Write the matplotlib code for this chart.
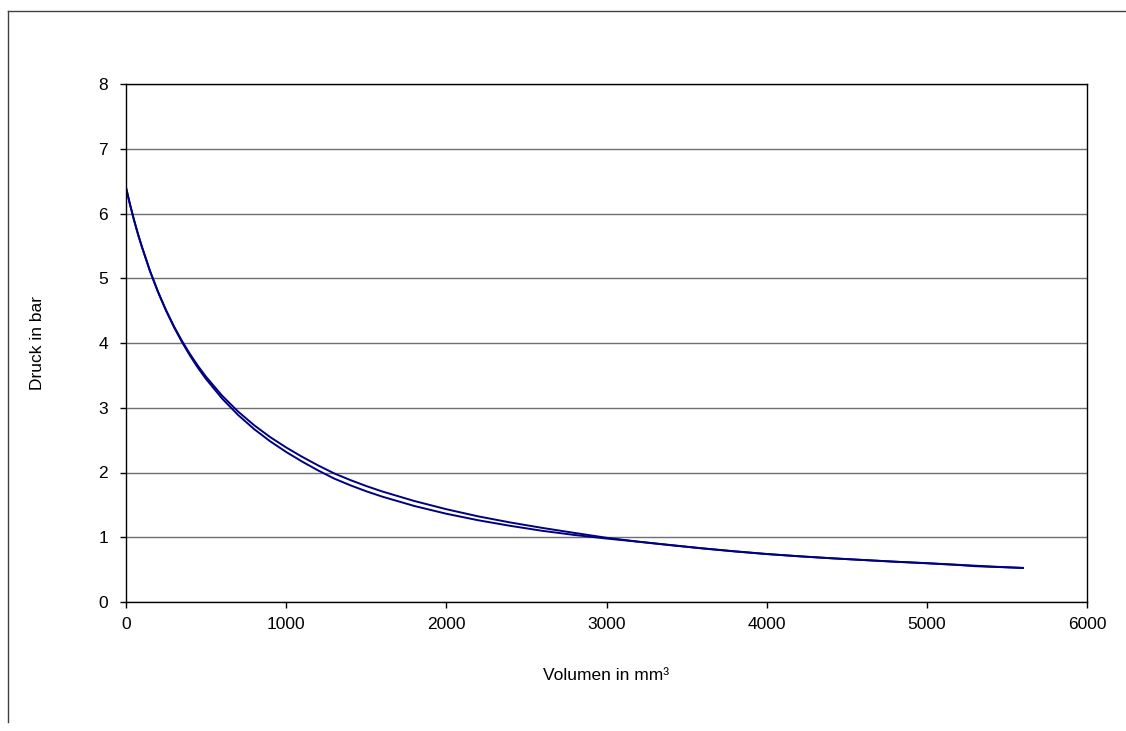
import matplotlib
matplotlib.use("Agg")
import matplotlib.pyplot as plt
from matplotlib.lines import Line2D

plt.rcParams['font.family'] = ['Liberation Sans', 'DejaVu Sans']

# volume readings (mm³), same for both curves
volume = [0, 25, 50, 75, 100, 150, 200, 250, 300, 350, 400, 450, 500, 600, 700,
          800, 900, 1000, 1100, 1200, 1300, 1400, 1500, 1600, 1800, 2000, 2200,
          2400, 2600, 2800, 3000, 3200, 3400, 3600, 3800, 4000, 4200, 4400,
          4600, 4800, 5000, 5200, 5300, 5400, 5600]

# Curve 1 (upper one before ~3000 mm³)
p_a = [6.40, 6.14, 5.90, 5.68, 5.48, 5.11, 4.79, 4.507, 4.255, 4.030, 3.827,
       3.644, 3.478, 3.187, 2.941, 2.730, 2.547, 2.387, 2.242, 2.109, 1.986,
       1.884, 1.791, 1.707, 1.560, 1.433, 1.322, 1.228, 1.144, 1.067, 0.992,
       0.931, 0.877, 0.827, 0.781, 0.740, 0.706, 0.676, 0.649, 0.623, 0.600,
       0.574, 0.561, 0.548, 0.525]

# Curve 2
p_b = [6.40, 6.14, 5.90, 5.68, 5.48, 5.11, 4.787, 4.500, 4.243, 4.012, 3.803,
       3.614, 3.443, 3.142, 2.888, 2.670, 2.482, 2.317, 2.168, 2.031, 1.906,
       1.803, 1.710, 1.627, 1.483, 1.363, 1.262, 1.176, 1.099, 1.035, 0.980,
       0.931, 0.880, 0.829, 0.783, 0.742, 0.707, 0.676, 0.649, 0.622, 0.598,
       0.571, 0.553, 0.544, 0.527]

x_ticks = [0, 1000, 2000, 3000, 4000, 5000, 6000]
y_ticks = [0, 1, 2, 3, 4, 5, 6, 7, 8]

fig = plt.figure(figsize=(11.26, 7.31), dpi=100)
ax = fig.add_axes([126 / 1126, 129 / 731, 961 / 1126, 518 / 731])

ax.plot(volume, p_a, color='#000080', lw=1.4)
ax.plot(volume, p_b, color='#000080', lw=1.4)

ax.set_xlim(0, 6000)
ax.set_ylim(0, 8)
ax.set_xticks(x_ticks)
ax.set_yticks(y_ticks)
ax.yaxis.grid(True, color='#707070', lw=1)
ax.set_axisbelow(True)
for s in ax.spines.values():
    s.set_color('black')
    s.set_linewidth(1)
ax.tick_params(axis='both', direction='out', length=4, width=1, colors='black',
               labelsize=12.5)
ax.tick_params(axis='x', pad=7)
ax.tick_params(axis='y', pad=9)

ax.set_xlabel("Volumen in mm³", fontsize=12.5)
ax.set_ylabel("Druck in bar", fontsize=12.5)
ax.xaxis.set_label_coords(0.5, -0.127)
ax.yaxis.set_label_coords(-0.084, 0.5)

# outer chart frame (top and left edge only visible)
fig.add_artist(Line2D([8 / 1126, 1], [1 - 11 / 731, 1 - 11 / 731],
                      transform=fig.transFigure, color='#404040', lw=1))
fig.add_artist(Line2D([8 / 1126, 8 / 1126], [1 - 11 / 731, 1 - 722 / 731],
                      transform=fig.transFigure, color='#404040', lw=1))

fig.savefig("out.png", dpi=100)
